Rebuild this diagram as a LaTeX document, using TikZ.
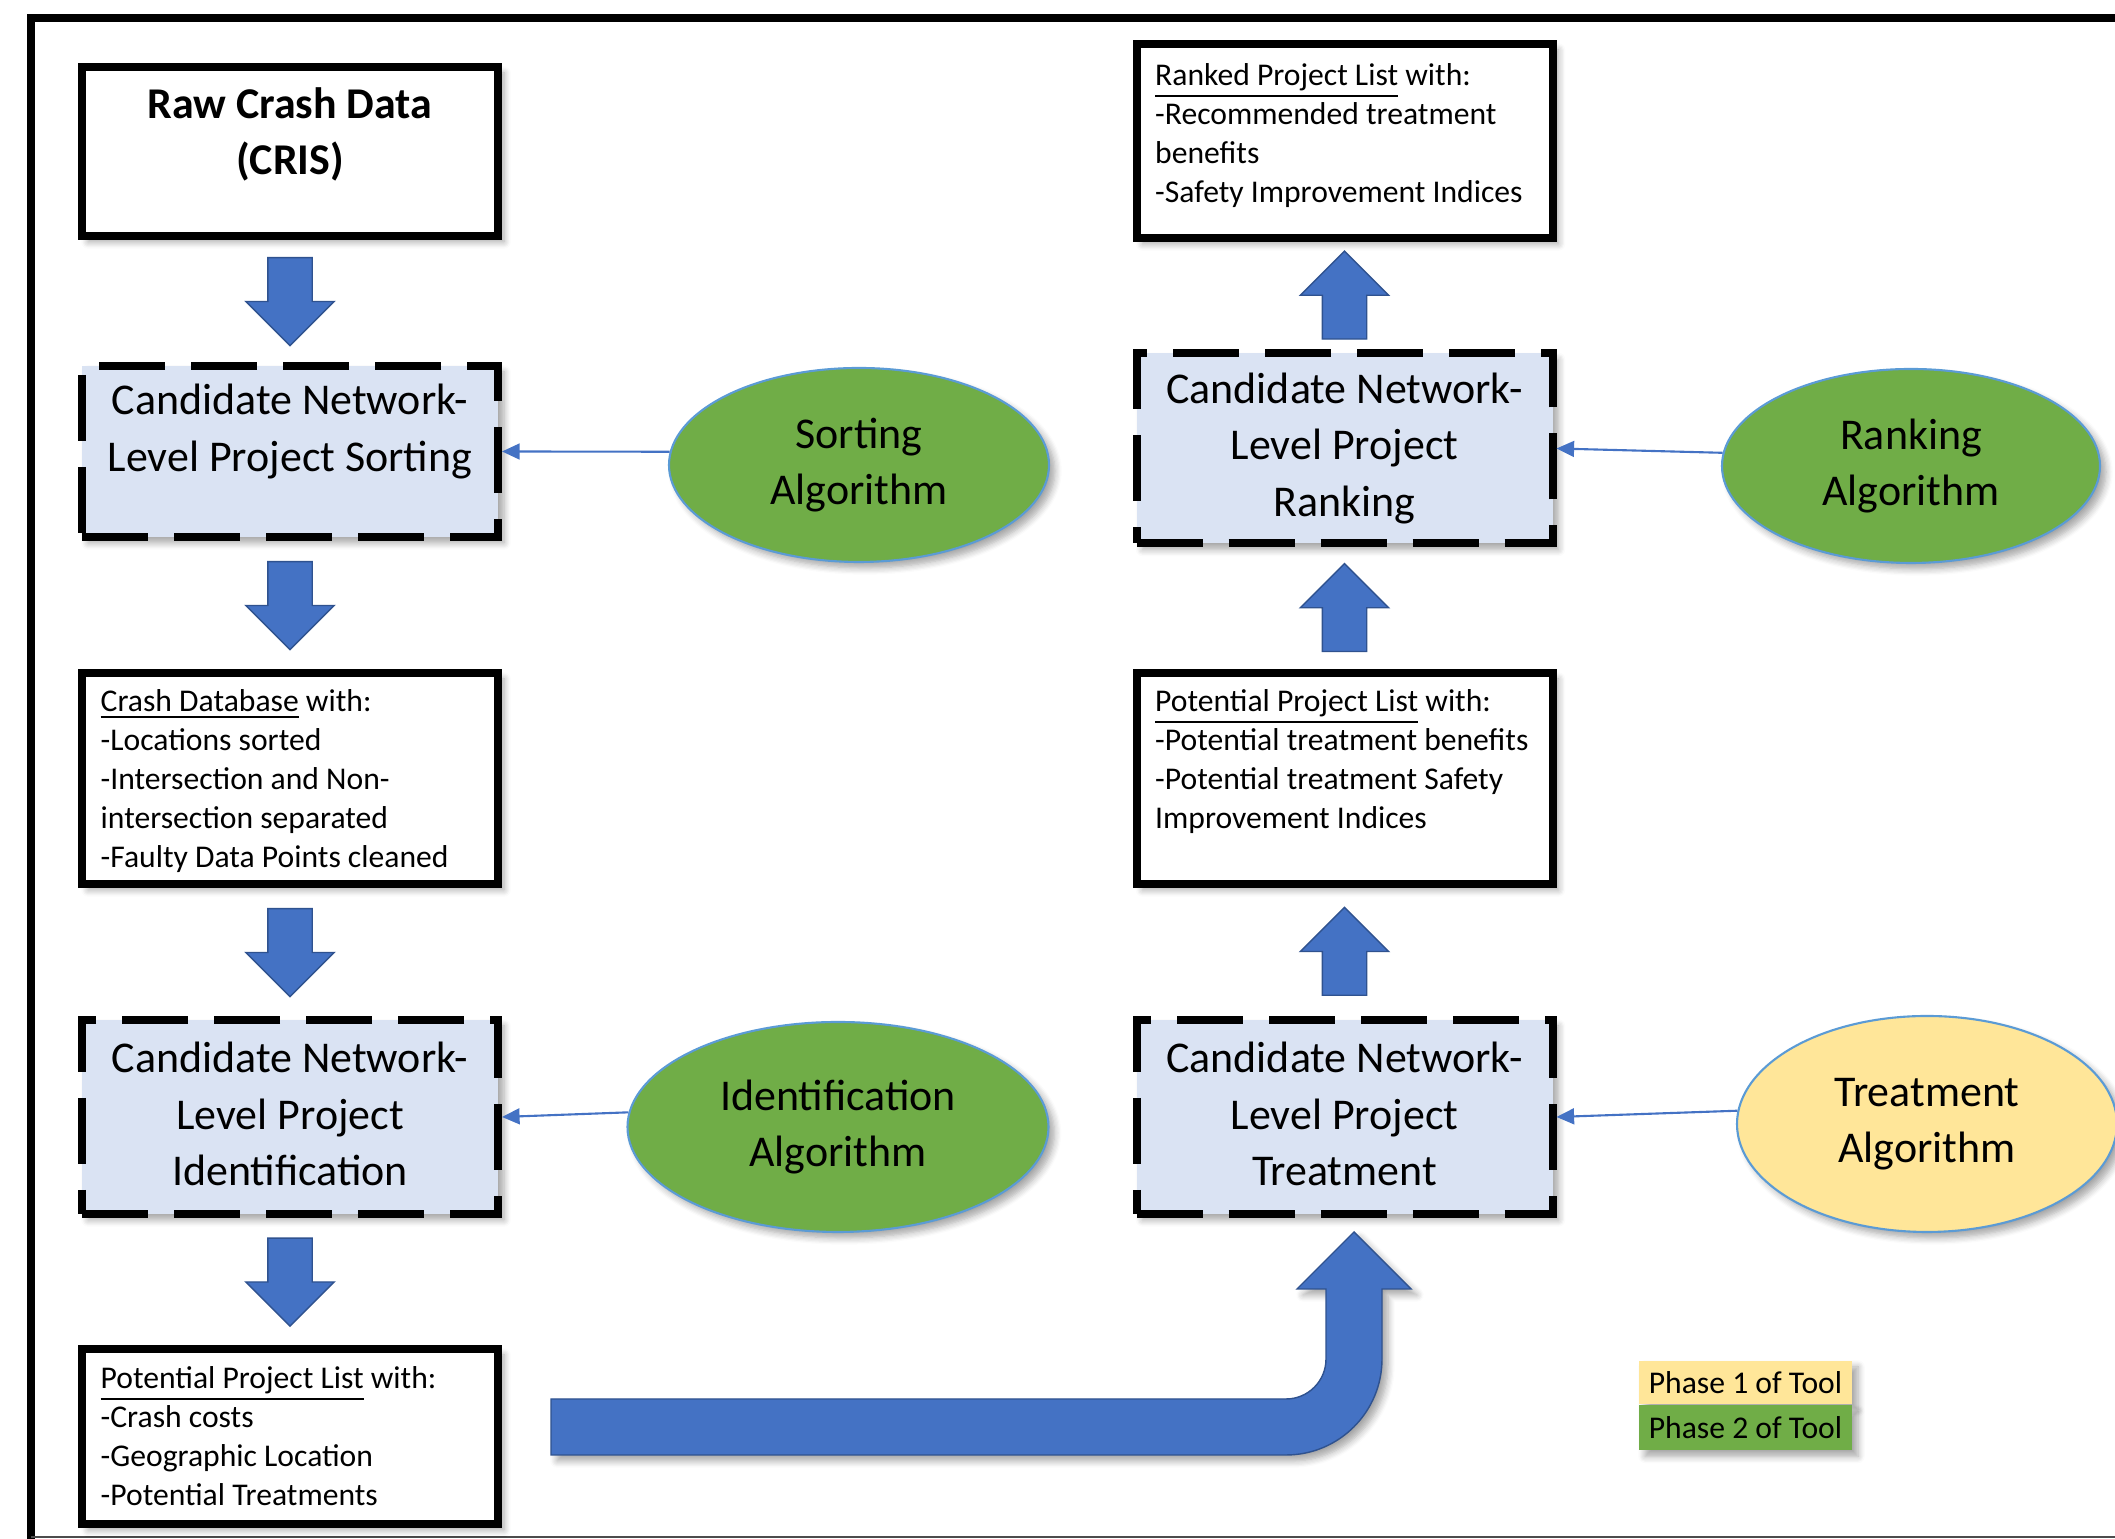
\documentclass[tikz,border=0pt]{standalone}
\usepackage{fontspec}
\setmainfont{Carlito}
\usetikzlibrary{shapes.geometric,shapes.arrows,shadows.blur,calc,positioning,arrows.meta}

\definecolor{arrowblue}{HTML}{4472C4}
\definecolor{arrowedge}{HTML}{2F528F}
\definecolor{boxblue}{HTML}{DAE3F3}
\definecolor{algogreen}{HTML}{70AD47}
\definecolor{algoyellow}{HTML}{FFE699}
\definecolor{algoedge}{HTML}{5B9BD5}

\newcommand{\lcol}{2.90}
\newcommand{\rcol}{13.445}

\begin{document}
\begin{tikzpicture}[
  softshadow/.style={blur shadow={shadow xshift=0.6mm, shadow yshift=-0.6mm,
                     shadow blur steps=6, shadow opacity=35}},
  solidbox/.style={draw, line width=0.08cm, fill=white, minimum width=4.16cm,
                   inner sep=0pt, softshadow},
  dashbox/.style={solidbox, fill=boxblue, dash pattern=on 0.66cm off 0.26cm},
  boxtext/.style={font=\fontsize{12.5}{16.1}\selectfont, align=center, inner sep=0pt},
  listtext/.style={font=\fontsize{9}{11.1}\selectfont, align=left, anchor=north west,
                   inner sep=0pt},
  algo/.style={ellipse, draw=algoedge, line width=0.6pt, fill=algogreen, inner sep=0pt,
               font=\fontsize{12.5}{16.1}\selectfont, align=center, softshadow},
  blockarrow/.style={single arrow, fill=arrowblue, draw=arrowedge, line width=0.4pt,
                     inner xsep=0pt, inner ysep=0.215cm, minimum height=0.88cm,
                     minimum width=0.87cm, single arrow head extend=0.22cm, anchor=tail},
  conn/.style={draw=arrowblue, line width=0.6pt, -{Triangle[length=5pt,width=4.5pt]}},
  legendbox/.style={inner sep=0pt, minimum width=2.13cm,
                    font=\fontsize{9}{11}\selectfont, softshadow}
]
  \useasboundingbox (0,0) rectangle (21.15,15.39);

  % frame
  \draw[line width=0.075cm] (0.31,0) -- (0.31,15.21) -- (21.15,15.21);
  \draw[line width=0.02cm, black!70] (0.31,0.02) -- (21.15,0.02);

  %% left column
  \node[solidbox, minimum height=1.69cm] (raw) at (\lcol,13.875) {};
  \node[boxtext, font=\fontsize{12.5}{16.1}\selectfont\bfseries] (raw-t)
    at ([yshift=0.17cm]raw.center) {Raw Crash Data\\(CRIS)};

  \node[dashbox, minimum height=1.71cm] (sort) at (\lcol,10.875) {};
  \node[boxtext] (sort-t) at ([yshift=0.2cm]sort.center)
    {Candidate Network-\\Level Project Sorting};

  \node[solidbox, minimum height=2.11cm] (crashdb) at (\lcol,7.605) {};
  \node[listtext] (crashdb-t) at ([xshift=0.22cm,yshift=-0.2cm]crashdb.north west)
    {\underline{Crash Database} with:\\-Locations sorted\\-Intersection and Non-\\
     intersection separated\\-Faulty Data Points cleaned};

  \node[dashbox, minimum height=1.94cm] (ident) at (\lcol,4.22) {};
  \node[boxtext] (ident-t) at ([yshift=0.03cm]ident.center)
    {Candidate Network-\\Level Project\\Identification};

  \node[solidbox, minimum height=1.75cm] (potlist) at (\lcol,1.025) {};
  \node[listtext] (potlist-t) at ([xshift=0.22cm,yshift=-0.21cm]potlist.north west)
    {\underline{Potential Project List} with:\\-Crash costs\\-Geographic Location\\
     -Potential Treatments};

  %% right column
  \node[solidbox, minimum height=1.94cm] (ranked) at (\rcol,13.98) {};
  \node[listtext] (ranked-t) at ([xshift=0.22cm,yshift=-0.23cm]ranked.north west)
    {\underline{Ranked Project List} with:\\-Recommended treatment\\benefits\\
     -Safety Improvement Indices};

  \node[dashbox, minimum height=1.90cm] (rank) at (\rcol,10.905) {};
  \node[boxtext] (rank-t) at (rank.center)
    {Candidate Network-\\Level Project\\Ranking};

  \node[solidbox, minimum height=2.11cm] (potright) at (\rcol,7.605) {};
  \node[listtext] (potright-t) at ([xshift=0.22cm,yshift=-0.2cm]potright.north west)
    {\underline{Potential Project List} with:\\-Potential treatment benefits\\
     -Potential treatment Safety\\Improvement Indices};

  \node[dashbox, minimum height=1.94cm] (treat) at (\rcol,4.22) {};
  \node[boxtext] (treat-t) at ([yshift=0.03cm]treat.center)
    {Candidate Network-\\Level Project\\Treatment};

  %% block arrows
  \foreach \a/\b in {raw/sort, sort/crashdb, crashdb/ident, ident/potlist}
    \node[blockarrow, rotate=-90] (dn-\a) at ($(\a.south)!0.5!(\b.north)+(0,0.44)$) {};
  \foreach \a/\b in {treat/potright, potright/rank, rank/ranked}
    \node[blockarrow, rotate=90] (up-\a) at ($(\a.north)!0.5!(\b.south)+(0,-0.44)$) {};

  % bent arrow into treatment
  \path[fill=arrowblue, draw=arrowedge, line width=0.4pt, softshadow]
    (5.51,1.40) -- (12.86,1.40) arc[start angle=270, end angle=360, radius=0.4]
    -- (13.26,2.50) -- (12.97,2.50) -- (13.54,3.07) -- (14.11,2.50) -- (13.82,2.50)
    -- (13.82,1.80) arc[start angle=0, end angle=-90, radius=0.96]
    -- (5.51,0.84) -- cycle;

  %% algorithms
  \node[algo, minimum width=3.80cm, minimum height=1.94cm] (sortalg) at (8.59,10.74)
    {Sorting\\Algorithm};
  \node[algo, minimum width=4.21cm, minimum height=2.10cm] (identalg) at (8.38,4.12)
    {Identification\\Algorithm};
  \node[algo, minimum width=3.78cm, minimum height=1.94cm] (rankalg) at (19.11,10.73)
    {Ranking\\Algorithm};
  \node[algo, fill=algoyellow, minimum width=3.80cm, minimum height=2.16cm] (treatalg)
    at (19.27,4.15) {Treatment\\Algorithm};

  \draw[conn] (sortalg.176) -- (sort.east);
  \draw[conn] (identalg.176) -- (ident.east);
  \draw[conn] (rankalg.176) -- (rank.east);
  \draw[conn] (treatalg.176) -- (treat.east);

  %% legend
  \node[legendbox, fill=algoyellow, minimum height=0.43cm] (ph1) at (17.455,1.565)
    {Phase 1 of Tool};
  \node[legendbox, fill=algogreen, minimum height=0.45cm, below=0pt of ph1] (ph2)
    {Phase 2 of Tool};
\end{tikzpicture}
\end{document}
